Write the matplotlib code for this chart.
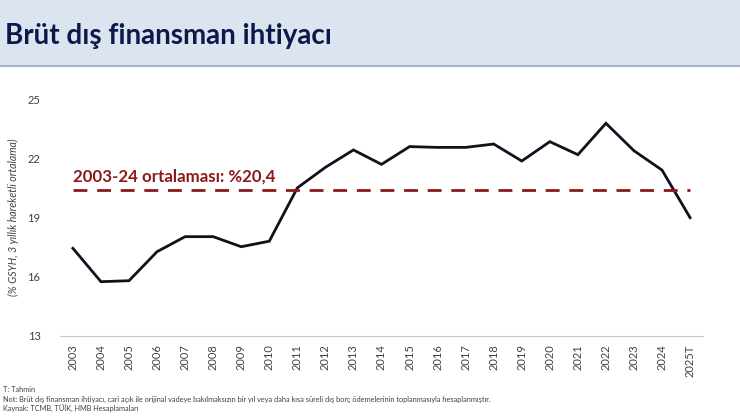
import matplotlib.pyplot as plt
from matplotlib.patches import Rectangle

# data (% of GDP, 3y moving average)
years = ["2003", "2004", "2005", "2006", "2007", "2008", "2009", "2010", "2011",
         "2012", "2013", "2014", "2015", "2016", "2017", "2018", "2019", "2020",
         "2021", "2022", "2023", "2024", "2025T"]
values = [17.44, 15.75, 15.8, 17.27, 18.03, 18.03, 17.52, 17.8, 20.5,
          21.54, 22.42, 21.69, 22.59, 22.55, 22.55, 22.72, 21.86, 22.84,
          22.18, 23.77, 22.38, 21.4, 18.99]
average = 20.4
yticks = [13, 16, 19, 22, 25]

title = "Brüt dış finansman ihtiyacı"
avg_label = "2003-24 ortalaması: %20,4"
ylabel = "(% GSYH, 3 yıllık hareketli ortalama)"
notes = [
    "T: Tahmin",
    "Not: Brüt dış finansman ihtiyacı, cari açık ile orijinal vadeye bakılmaksızın bir yıl veya daha kısa süreli dış borç ödemelerinin toplanmasıyla hesaplanmıştır.",
    "Kaynak: TCMB, TÜİK, HMB Hesaplamaları",
]

plt.rcParams['font.family'] = ['Lato', 'DejaVu Sans']

fig = plt.figure(figsize=(7.4, 4.17), dpi=100)

# header band
fig.patches.append(Rectangle((0, 1 - 65 / 417), 1, 65 / 417, transform=fig.transFigure,
                             facecolor="#dce4ef", edgecolor="none", zorder=0))
fig.lines.append(plt.Line2D([0, 1], [1 - 65.5 / 417] * 2, transform=fig.transFigure,
                            color="#a7b2c6", lw=1.5))
fig.text(5 / 740, 1 - 36 / 417, title, fontsize=20, fontweight="bold",
         color="#0b1a4a", va="center", ha="left")

ax = fig.add_axes([60 / 740, 1 - 336 / 417, 643 / 740, 237 / 417])
x = list(range(len(years)))
ax.plot(x, values, color="#10111c", lw=2, solid_joinstyle="miter")
ax.hlines(average, 0, len(years) - 1, colors="#8b1a1a", linestyles=(0, (5, 3.5)), lw=2)
ax.text(0, 21.05, avg_label, color="#8b1a1a", fontsize=12.2, fontweight="bold",
        ha="left", va="center")

ax.set_xlim(-0.46, len(years) - 1 + 0.46)
ax.set_ylim(13, 25)
ax.set_yticks(yticks)
ax.set_xticks(x)
ax.set_xticklabels(years, rotation=90)
ax.tick_params(axis="both", length=0, labelsize=8, colors="#404040")
ax.tick_params(axis="y", pad=14)
ax.tick_params(axis="x", pad=6)
for s in ["top", "right", "left"]:
    ax.spines[s].set_visible(False)
ax.spines["bottom"].set_color("#c8c8c8")
ax.set_ylabel(ylabel, fontsize=7.6, style="italic", color="#404040", labelpad=6)

for i, n in enumerate(notes):
    fig.text(3 / 740, 1 - (389 + i * 10) / 417, n, fontsize=5.3, color="#404040",
             va="center", ha="left")

fig.savefig("out.png", dpi=100)
